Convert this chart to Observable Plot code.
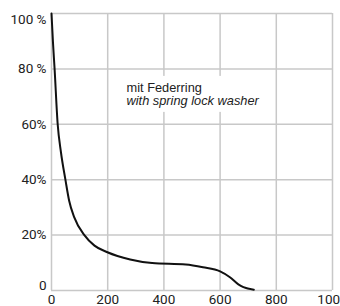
<!DOCTYPE html>
<html>
<head>
<meta charset="utf-8">
<script src="https://cdn.jsdelivr.net/npm/d3@7"></script>
<script src="https://cdn.jsdelivr.net/npm/@observablehq/plot@0.6"></script>
<style>
  html, body { margin: 0; padding: 0; background: #fff; }
  #chart svg { display: block; }
</style>
</head>
<body>
<div id="chart"></div>
<script>
// Curve: loosening (x) vs remaining preload (%)
const curveX = [0, 5, 11, 22, 33.5, 49.5, 62.6, 80.7, 117, 153, 199, 280, 358, 478, 539, 600, 635, 665, 683, 720];
const curveY = [100, 90, 80, 60, 50, 40, 32.5, 26.5, 20, 16.2, 13.8, 11.2, 9.9, 9.4, 8.4, 6.9, 4.8, 2.2, 1.2, 0.3];

const xTicks = [0, 200, 400, 600, 800, 1000];
const xTickLabels = ["0", "200", "400", "600", "800", "1000"];
const yTicks = [0, 20, 40, 60, 80, 100];
const yTickLabels = ["0", "20%", "40%", "60%", "80 %", "100 %"];

const labelLine1 = "mit Federring";
const labelLine2 = "with spring lock washer";

const curve = curveX.map((x, i) => ({x, y: curveY[i]}));
const yMid = yTicks.slice(1, -1);
const yEnds = [yTicks[0], yTicks[yTicks.length - 1]];
const yLab = v => yTickLabels[yTicks.indexOf(v)];

const axisFont = "Roboto, sans-serif";
const fs = 13.5;
const grid = "#c8c8c8";

const chart = Plot.plot({
  width: 340,
  height: 306,
  marginLeft: 51,
  marginRight: 8,
  marginTop: 13,
  marginBottom: 16,
  style: {fontFamily: axisFont, fontSize: fs + "px", color: "#222", background: "#fff", overflow: "visible"},
  x: {domain: [0, 1000], label: null},
  y: {domain: [0, 100], label: null},
  marks: [
    Plot.ruleX(xTicks, {stroke: grid, strokeWidth: 1.5}),
    Plot.ruleY(yTicks, {stroke: grid, strokeWidth: 1.5}),
    Plot.rect([0], {x1: () => 242, x2: () => 785, y1: () => 64.3, y2: () => 77.3, fill: "white"}),
    Plot.axisX(xTicks, {label: null, tickSize: 0, tickPadding: 3.5, tickFormat: v => xTickLabels[xTicks.indexOf(v)], fontFamily: axisFont, fontSize: fs, fill: "#222"}),
    Plot.axisY(yMid, {label: null, tickSize: 0, tickPadding: 5, tickFormat: yLab, fontFamily: axisFont, fontSize: fs, fill: "#222"}),
    Plot.text([yEnds[0]], {x: 0, y: d => d, text: yLab, textAnchor: "end", dx: -5, lineAnchor: "bottom", dy: -1, fontFamily: axisFont, fontSize: fs, fill: "#222"}),
    Plot.text([yEnds[1]], {x: 0, y: d => d, text: yLab, textAnchor: "end", dx: -5, lineAnchor: "top", dy: 1, fontFamily: axisFont, fontSize: fs, fill: "#222"}),
    Plot.line(curve, {x: "x", y: "y", curve: "monotone-x", stroke: "#111", strokeWidth: 2}),
    Plot.text([labelLine1], {x: () => 267, y: () => 71.6, text: d => d, textAnchor: "start", lineAnchor: "bottom", fontFamily: "'Liberation Sans', Arial, sans-serif", fontSize: 12.8, fill: "#222"}),
    Plot.text([labelLine2], {x: () => 267, y: () => 66.8, text: d => d, textAnchor: "start", lineAnchor: "bottom", fontFamily: "'Liberation Sans', Arial, sans-serif", fontStyle: "italic", fontSize: 12.8, fill: "#222"})
  ]
});
document.getElementById("chart").appendChild(chart);
</script>
</body>
</html>
